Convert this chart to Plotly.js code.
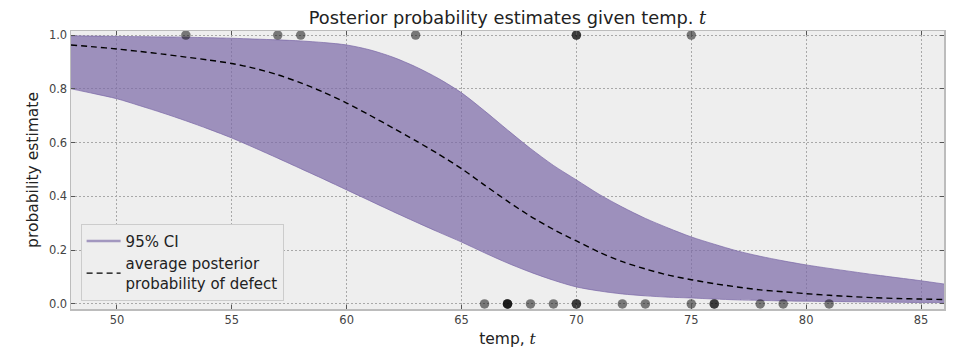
<!DOCTYPE html>
<html>
<head>
<meta charset="utf-8">
<script src="https://cdn.plot.ly/plotly-3.0.1.min.js"></script>
<style>
html,body{margin:0;padding:0;background:#ffffff;}
#chart{width:978px;height:358px;}
</style>
</head>
<body>
<div id="chart"></div>
<script>
// Temperature grid (x values for the posterior curves)
const temps = [48,49,50,51,52,53,54,55,56,57,58,59,60,61,62,63,64,65,66,67,68,69,70,71,72,73,74,75,76,77,78,79,80,81,82,83,84,85,86];
// Upper bound of 95% CI
const ciUpper = [0.997,0.996,0.995,0.994,0.993,0.992,0.990,0.988,0.985,0.982,0.978,0.972,0.963,0.945,0.918,0.882,0.838,0.785,0.718,0.647,0.578,0.515,0.461,0.407,0.360,0.318,0.282,0.249,0.222,0.197,0.177,0.160,0.145,0.132,0.120,0.108,0.097,0.086,0.074];
// Lower bound of 95% CI
const ciLower = [0.800,0.782,0.763,0.737,0.710,0.681,0.650,0.617,0.580,0.542,0.503,0.464,0.424,0.384,0.344,0.305,0.267,0.230,0.190,0.152,0.118,0.088,0.063,0.048,0.037,0.030,0.025,0.022,0.018,0.015,0.013,0.011,0.010,0.009,0.008,0.007,0.006,0.005,0.005];
// Average posterior probability of defect
const meanProb = [0.963,0.956,0.948,0.939,0.929,0.918,0.907,0.894,0.876,0.852,0.822,0.787,0.747,0.702,0.655,0.607,0.557,0.503,0.442,0.382,0.326,0.277,0.234,0.192,0.157,0.130,0.107,0.090,0.075,0.063,0.052,0.045,0.038,0.032,0.027,0.023,0.020,0.018,0.016];
// Observed launches: temperature and defect (1 = defect, 0 = none)
const obsTemp = [66,70,69,68,67,72,73,70,57,63,70,78,67,53,67,75,70,81,76,79,75,76,58];
const obsDefect = [0,1,0,0,0,0,0,0,1,1,1,0,0,1,0,0,0,0,0,0,1,0,1];

const purple = 'rgba(122,104,166,0.7)';
const font = "'DejaVu Sans', sans-serif";

const traces = [
  {x: temps, y: ciLower, mode: 'lines', line: {color: purple, width: 1, shape: 'spline', smoothing: 0.8}, showlegend: false, hoverinfo: 'skip'},
  {x: temps, y: ciUpper, mode: 'lines', line: {color: purple, width: 1, shape: 'spline', smoothing: 0.8}, fill: 'tonexty', fillcolor: purple, showlegend: false, hoverinfo: 'skip'},
  {x: [null], y: [null], mode: 'lines', line: {color: 'rgba(122,104,166,0.65)', width: 2.5}, name: '95% CI'},
  {x: temps, y: meanProb, mode: 'lines', line: {color: '#000000', width: 1.4, dash: '6px,4px', shape: 'spline', smoothing: 0.8}, name: 'average posterior<br>probability of defect'},
  {x: obsTemp, y: obsDefect, mode: 'markers', marker: {color: '#000000', size: 9.5, opacity: 0.5, line: {width: 0}}, showlegend: false, cliponaxis: false}
];

const layout = {
  width: 978, height: 358,
  margin: {l: 71, r: 34, t: 31, b: 49},
  paper_bgcolor: '#ffffff',
  plot_bgcolor: '#eeeeee',
  font: {family: font, color: '#333333', size: 12},
  title: {text: "Posterior probability estimates given temp. <span style=\"font-family:'DejaVu Serif';font-style:italic\">t</span>", font: {family: font, size: 17.8, color: '#222222'}, x: 0.5, xanchor: 'center', y: 0.95, yanchor: 'middle', xref: 'paper'},
  xaxis: {
    range: [48, 86], tickmode: 'array', tickvals: [50,55,60,65,70,75,80,85],
    ticks: 'inside', ticklen: 4, tickcolor: '#555555', tickwidth: 1,
    showline: true, linecolor: '#bcbcbc', linewidth: 1.5, mirror: 'ticks',
    showgrid: true, gridcolor: '#a8a8a8', gridwidth: 1, griddash: '2px,2px',
    zeroline: false, tickfont: {size: 11.5, color: '#444444'},
    title: {text: "temp, <span style=\"font-family:'DejaVu Serif';font-style:italic\">t</span>", font: {size: 15.5, color: '#222222'}, standoff: 7}
  },
  yaxis: {
    range: [-0.019, 1.015], tickmode: 'array', tickvals: [0,0.2,0.4,0.6,0.8,1.0], ticktext: ['0.0','0.2','0.4','0.6','0.8','1.0'],
    ticks: 'inside', ticklen: 4, tickcolor: '#555555', tickwidth: 1,
    showline: true, linecolor: '#bcbcbc', linewidth: 1.5, mirror: 'ticks',
    showgrid: true, gridcolor: '#a8a8a8', gridwidth: 1, griddash: '2px,2px',
    zeroline: false, tickfont: {size: 11.5, color: '#444444'},
    title: {text: 'probability estimate', font: {size: 15.5, color: '#222222'}, standoff: 6}
  },
  legend: {x: 0.011, y: 0.03, xanchor: 'left', yanchor: 'bottom', traceorder: 'normal', itemwidth: 34, bgcolor: '#eeeeee', bordercolor: '#cccccc', borderwidth: 1, font: {size: 15, color: '#222222'}, tracegroupgap: 0},
  showlegend: true
};

Plotly.newPlot('chart', traces, layout, {displayModeBar: false, staticPlot: true});
</script>
</body>
</html>
